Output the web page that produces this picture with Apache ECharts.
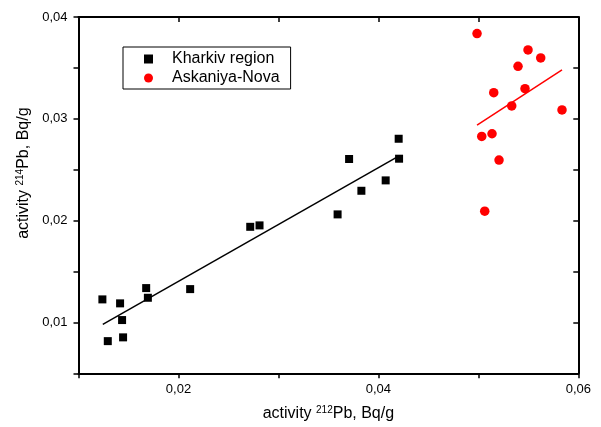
<!DOCTYPE html>
<html>
<head>
<meta charset="utf-8">
<script src="https://cdn.jsdelivr.net/npm/echarts@6/dist/echarts.min.js"></script>
<style>
  html, body { margin: 0; padding: 0; background: #fff; }
  #chart { width: 601px; height: 427px; }
</style>
</head>
<body>
<div id="chart"></div>
<script>
// Kharkiv region (black squares)
var kharkivX = [0.01239, 0.01293, 0.01416, 0.01436, 0.01446, 0.01677, 0.01694, 0.02117,
                0.02718, 0.02811, 0.03592, 0.03707, 0.03830, 0.04073, 0.04203, 0.04207];
var kharkivY = [0.01226, 0.00816, 0.01187, 0.01023, 0.00853, 0.01337, 0.01242, 0.01327,
                0.01939, 0.01953, 0.02061, 0.02605, 0.02293, 0.02395, 0.02804, 0.02608];

// Askaniya-Nova (red circles)
var askaniyaX = [0.04987, 0.05497, 0.05624, 0.05397, 0.05154, 0.05467,
                 0.05334, 0.05837, 0.05034, 0.05137, 0.05207, 0.05064];
var askaniyaY = [0.03837, 0.03677, 0.03598, 0.03515, 0.03257, 0.03296,
                 0.03126, 0.03087, 0.02827, 0.02853, 0.02595, 0.02093];

// fit line end points
var kharkivFitX = [0.01243, 0.04177];
var kharkivFitY = [0.00980, 0.02618];
var askaniyaFitX = [0.04987, 0.05837];
var askaniyaFitY = [0.02939, 0.03480];

function pairs(xs, ys) {
  var out = [];
  for (var i = 0; i < xs.length; i++) out.push([xs[i], ys[i]]);
  return out;
}

var font = 'Liberation Sans, Arial, sans-serif';

var myChart = echarts.init(document.getElementById('chart'));

myChart.setOption({
  animation: false,
  grid: { left: 78.5, right: 22.7, top: 17, bottom: 53.7, containLabel: false },
  legend: {
    orient: 'vertical',
    left: 123,
    top: 47,
    padding: [4, 11, 3, 21],
    itemWidth: 9,
    itemHeight: 9,
    itemGap: 3,
    borderColor: '#000',
    borderWidth: 1,
    borderRadius: 0,
    formatter: function (name) { return '{n|' + name + '}'; },
    textStyle: {
      fontFamily: font, fontSize: 16, color: '#000',
      rich: { n: { fontFamily: font, fontSize: 16, color: '#000', padding: [0, 0, 0, 14] } }
    },
    data: [
      { name: 'Kharkiv region', icon: 'rect' },
      { name: 'Askaniya-Nova', icon: 'circle' }
    ]
  },
  xAxis: [{
    type: 'value',
    min: 0.01,
    max: 0.06,
    interval: 0.01,
    position: 'bottom',
    name: '{t|activity }{s|212}{t|Pb, Bq/g}',
    nameLocation: 'middle',
    nameGap: 32,
    nameTextStyle: {
      rich: {
        t: { fontFamily: font, fontSize: 16, color: '#000' },
        s: { fontFamily: font, fontSize: 10, color: '#000', verticalAlign: 'top' }
      }
    },
    axisLine: { lineStyle: { color: '#000', width: 2 } },
    axisTick: { inside: false, length: 5, lineStyle: { color: '#000', width: 1.5 } },
    axisLabel: {
      margin: 10,
      fontFamily: font, fontSize: 13, color: '#000',
      formatter: function (v) {
        var k = Math.round(v * 100);
        return k % 2 === 0 ? (k / 100).toFixed(2).replace('.', ',') : '';
      }
    },
    splitLine: { show: false }
  }, {
    type: 'value',
    min: 0.01,
    max: 0.06,
    interval: 0.01,
    position: 'top',
    axisLine: { onZero: false, lineStyle: { color: '#000', width: 2 } },
    axisTick: { inside: true, length: 5, lineStyle: { color: '#000', width: 1.5 } },
    axisLabel: { show: false },
    splitLine: { show: false }
  }],
  yAxis: [{
    type: 'value',
    min: 0.005,
    max: 0.04,
    interval: 0.005,
    position: 'left',
    name: '{t|activity }{s|214}{t|Pb, Bq/g}',
    nameLocation: 'middle',
    nameRotate: 90,
    nameGap: 45,
    nameTextStyle: {
      padding: [0, 0, 0, 44],
      rich: {
        t: { fontFamily: font, fontSize: 16, color: '#000' },
        s: { fontFamily: font, fontSize: 10, color: '#000', verticalAlign: 'top' }
      }
    },
    axisLine: { show: true, lineStyle: { color: '#000', width: 2 } },
    axisTick: { show: true, inside: false, length: 5, lineStyle: { color: '#000', width: 1.5 } },
    axisLabel: {
      margin: 11,
      fontFamily: font, fontSize: 13, color: '#000',
      formatter: function (v) {
        var k = Math.round(v * 1000);
        return k % 10 === 0 ? (k / 1000).toFixed(2).replace('.', ',') : '';
      }
    },
    splitLine: { show: false }
  }, {
    type: 'value',
    min: 0.005,
    max: 0.04,
    interval: 0.005,
    position: 'right',
    axisLine: { show: true, onZero: false, lineStyle: { color: '#000', width: 2 } },
    axisTick: { show: true, inside: true, length: 5, lineStyle: { color: '#000', width: 1.5 } },
    axisLabel: { show: false },
    splitLine: { show: false }
  }],
  series: [{
    name: 'Kharkiv region',
    type: 'scatter',
    symbol: 'rect',
    symbolSize: 8,
    itemStyle: { color: '#000', opacity: 1 },
    data: pairs(kharkivX, kharkivY),
    z: 3
  }, {
    name: 'Askaniya-Nova',
    type: 'scatter',
    symbol: 'circle',
    symbolSize: 9.5,
    itemStyle: { color: '#ff0000', opacity: 1 },
    data: pairs(askaniyaX, askaniyaY),
    z: 3
  }, {
    name: 'Kharkiv fit',
    type: 'line',
    showSymbol: false,
    symbol: 'none',
    lineStyle: { color: '#000', width: 1.5 },
    data: pairs(kharkivFitX, kharkivFitY),
    z: 2
  }, {
    name: 'Askaniya fit',
    type: 'line',
    showSymbol: false,
    symbol: 'none',
    lineStyle: { color: '#ff0000', width: 1.5 },
    data: pairs(askaniyaFitX, askaniyaFitY),
    z: 2
  }]
});
</script>
</body>
</html>
